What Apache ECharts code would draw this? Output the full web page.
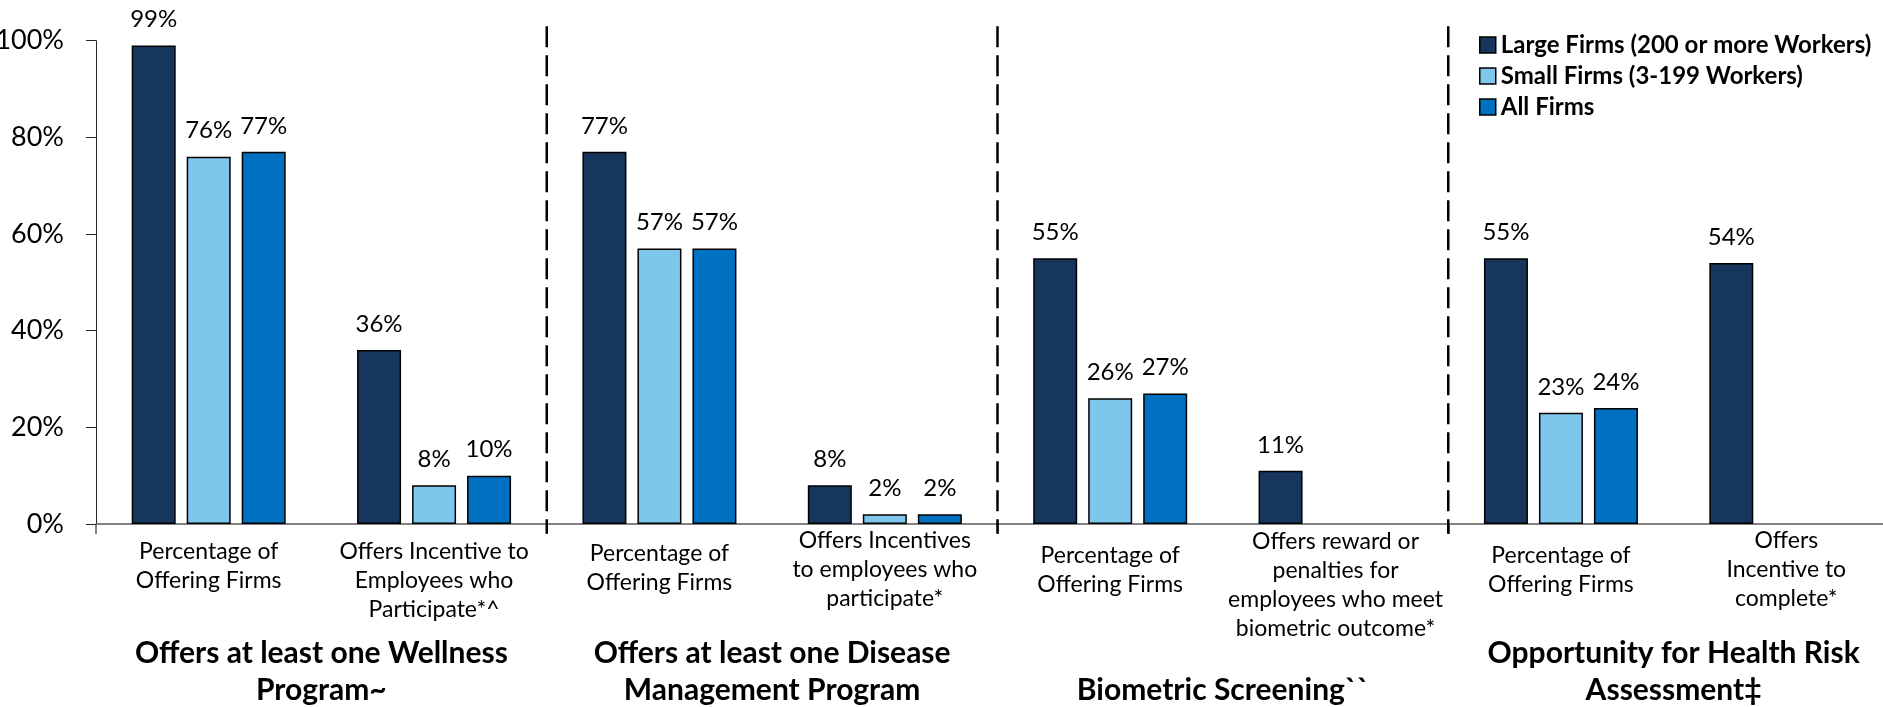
<!DOCTYPE html>
<html>
<head>
<meta charset="utf-8">
<script src="https://cdn.jsdelivr.net/npm/echarts@6/dist/echarts.min.js"></script>
<style>
html,body{margin:0;padding:0;background:#fff;}
#c{width:1883px;height:707px;}
</style>
</head>
<body>
<div id="c"></div>
<script>
// ---- data ----
const categories = [
  'Percentage of\nOffering Firms',
  'Offers Incentive to\nEmployees who\nParticipate*^',
  'Percentage of\nOffering Firms',
  'Offers Incentives\nto employees who\nparticipate*',
  'Percentage of\nOffering Firms',
  'Offers reward or\npenalties for\nemployees who meet\nbiometric outcome*',
  'Percentage of\nOffering Firms',
  'Offers\nIncentive to\ncomplete*'
];
const groupTitles = [
  'Offers at least one Wellness\nProgram~',
  'Offers at least one Disease\nManagement Program',
  '\nBiometric Screening``',
  'Opportunity for Health Risk\nAssessment\u2021'
];
const seriesNames = ['Large Firms (200 or more Workers)', 'Small Firms (3-199 Workers)', 'All Firms'];
const largeFirms = [99, 36, 77, 8, 55, 11, 55, 54];
const smallFirms = [76, 8, 57, 2, 26, null, 23, null];
const allFirms   = [77, 10, 57, 2, 27, null, 24, null];

// ---- style ----
const FONT = 'Lato, "Open Sans", sans-serif';
const colors = ['#17365D', '#7FC6ED', '#0070C0'];
const labelTopPad = [12, 12, 14, 1, 16, 2, 16, 1];

const chart = echarts.init(document.getElementById('c'), null, {renderer: 'canvas'});

function barSeries(name, data, color) {
  return {
    name: name,
    type: 'bar',
    data: data,
    barWidth: 44,
    barGap: '25%',
    itemStyle: {color: color, borderColor: '#000', borderWidth: 1.5},
    label: {
      show: true, position: 'top', distance: 14,
      formatter: '{c}%', fontFamily: FONT, fontSize: 24, lineHeight: 24, color: '#000'
    }
  };
}

chart.setOption({
  animation: false,
  backgroundColor: '#fff',
  textStyle: {fontFamily: FONT},
  grid: {left: 96, width: 1803, top: 40.7, bottom: 183, containLabel: false, outerBoundsMode: 'none'},
  legend: {
    orient: 'vertical', left: 1474, top: 28,
    icon: 'rect', itemWidth: 16, itemHeight: 16, itemGap: 7,
    itemStyle: {borderColor: '#000', borderWidth: 1.5},
    textStyle: {fontFamily: FONT, fontWeight: 'bold', fontSize: 24, lineHeight: 24, color: '#000'},
    data: seriesNames
  },
  xAxis: [
    {
      type: 'category',
      data: categories.map((c, i) => ({value: c, textStyle: {padding: [labelTopPad[i], 0, 0, 0]}})),
      axisLine: {show: true, lineStyle: {color: '#595959', width: 1.5}},
      axisTick: {show: true, interval: (idx) => idx % 2 === 0, length: 10, lineStyle: {color: '#595959', width: 1.5}},
      axisLabel: {interval: 0, margin: 1, fontFamily: FONT, fontSize: 23, lineHeight: 29, color: '#000'},
      splitLine: {show: false}
    },
    {
      type: 'category',
      data: groupTitles,
      position: 'bottom',
      offset: 100,
      axisLine: {show: false},
      axisTick: {show: false},
      axisLabel: {interval: 0, margin: 11, fontFamily: FONT, fontSize: 30, fontWeight: 'bold', lineHeight: 37, color: '#000'},
      splitLine: {show: false}
    }
  ],
  yAxis: {
    type: 'value', min: 0, max: 100, interval: 20,
    axisLine: {show: true, lineStyle: {color: '#262626', width: 1}},
    axisTick: {show: true, length: 10, lineStyle: {color: '#262626', width: 1}},
    axisLabel: {formatter: '{value}%', fontFamily: FONT, fontSize: 27, margin: 32, color: '#000'},
    splitLine: {show: false}
  },
  series: [
    barSeries(seriesNames[0], largeFirms, colors[0]),
    barSeries(seriesNames[1], smallFirms, colors[1]),
    barSeries(seriesNames[2], allFirms, colors[2])
  ]
});

// dashed separators between program groups, placed through the axes
const xAt = i => chart.convertToPixel({xAxisIndex: 0}, i);
const yTop = chart.convertToPixel({yAxisIndex: 0}, 103);
const yBot = chart.convertToPixel({yAxisIndex: 0}, -2);
const graphics = [2, 4, 6].map(k => {
  const x = (xAt(k - 1) + xAt(k)) / 2;
  return {
    type: 'line', silent: true, z: 10,
    shape: {x1: x, y1: yTop, x2: x, y2: yBot},
    style: {stroke: '#000', lineWidth: 2.5, lineDash: [21, 8]}
  };
});
chart.setOption({graphic: graphics});
</script>
</body>
</html>
